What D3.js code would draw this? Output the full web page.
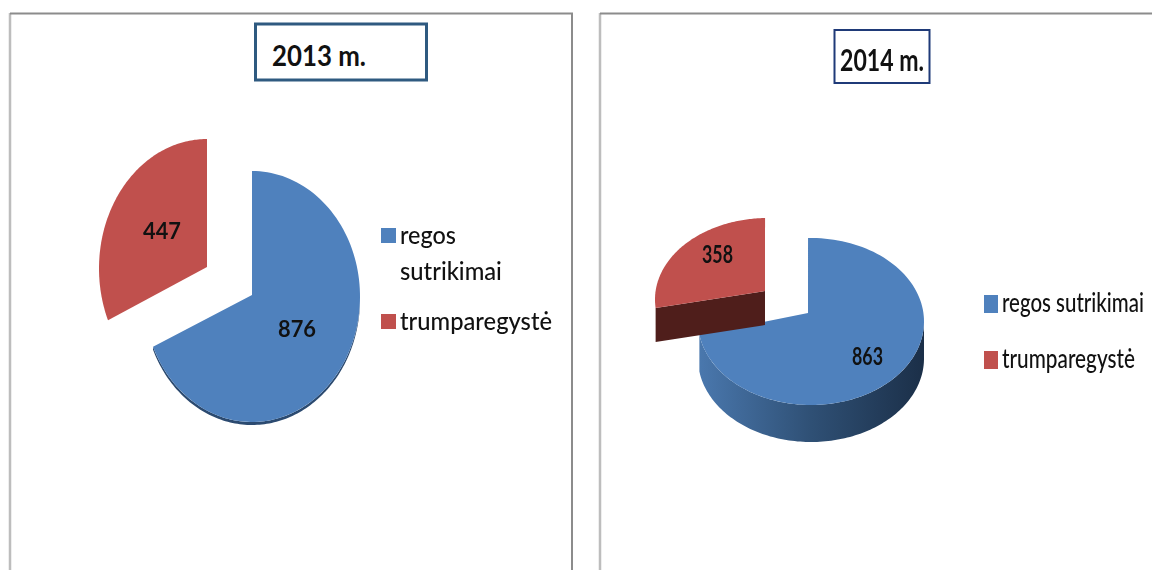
<!DOCTYPE html>
<html>
<head>
<meta charset="utf-8">
<script src="https://cdnjs.cloudflare.com/ajax/libs/d3/7.8.5/d3.min.js"></script>
<style>
  html, body { margin: 0; padding: 0; background: #fff; overflow: hidden; }
  svg { display: block; filter: blur(0.6px); }
  text { font-family: Lato, "Open Sans", sans-serif; fill: #111; }
</style>
</head>
<body>
<div id="chart"></div>
<script>
// values
var categories = ['regos sutrikimai', 'trumparegystė'];
var years = ['2013 m.', '2014 m.'];
var values2013 = [876, 447];
var values2014 = [863, 358];
var colors = ['#4f81bd', '#c0504d'];

var w = 1152, h = 570;
var svg = d3.select('#chart').append('svg').attr('width', w).attr('height', h);

var defs = svg.append('defs');
var grad = defs.append('linearGradient').attr('id', 'blueWall')
  .attr('gradientUnits', 'userSpaceOnUse')
  .attr('x1', 698).attr('x2', 924).attr('y1', 0).attr('y2', 0);
grad.append('stop').attr('offset', 0).attr('stop-color', '#4a78ae');
grad.append('stop').attr('offset', 0.5).attr('stop-color', '#2f5075');
grad.append('stop').attr('offset', 1).attr('stop-color', '#1b2f48');

// the panels
function frame(x0, x1) {
  svg.append('line').attr('x1', x0).attr('x2', x0).attr('y1', 13).attr('y2', h)
    .attr('stroke', '#bdbdbd').attr('stroke-width', 2.5);
  svg.append('line').attr('x1', x0).attr('x2', x1).attr('y1', 13.5).attr('y2', 13.5)
    .attr('stroke', '#8c8c8c').attr('stroke-width', 2);
}
frame(10, 573);
frame(600, w);
svg.append('line').attr('x1', 572).attr('x2', 572).attr('y1', 13).attr('y2', h)
  .attr('stroke', '#8c8c8c').attr('stroke-width', 2);

var toRad = Math.PI / 180;
var pie = d3.pie().sort(null);

function drawPie(values, g) {
  var arcs = pie(values);
  // the source is a tilted 3D pie, so seen angles differ a bit from true ones
  var warps = [g.seenCut, g.seenCutRed].map(function(cut) {
    return d3.scaleLinear()
      .domain([0, arcs[0].endAngle, 2 * Math.PI])
      .range([g.seenStart * toRad, cut * toRad, 2 * Math.PI + g.seenStart * toRad]);
  });
  var line = d3.line();

  arcs.forEach(function(d, i) {
    var a0 = warps[i](d.startAngle), a1 = warps[i](d.endAngle);
    var off = i === 1 ? g.explode : [0, 0];
    var ry = i === 1 ? g.ryRed : g.ry;
    var layer = svg.append('g').attr('transform', 'translate(' + off[0] + ',' + off[1] + ')');

    function rim(a) {
      return [g.cx + g.rx * Math.sin(a), g.cy - ry * Math.cos(a)];
    }
    function sample(s0, s1) {
      return d3.range(0, 121).map(function(k) { return rim(d3.interpolateNumber(s0, s1)(k / 120)); });
    }

    if (i === 0) {
      // outer wall of the big slice, only the part that faces the viewer
      var top = sample(Math.PI / 2, a1);
      var bottom = top.map(function(p) { return [p[0], p[1] + g.depth]; }).reverse();
      layer.append('path').attr('d', line(top.concat(bottom)) + 'Z').attr('fill', g.wallBlue);
    } else if (g.depthRed > 0) {
      // cut face of the pulled out slice
      var outer = rim(a0);
      var face = [[g.ax, g.ay], outer, [outer[0], outer[1] + g.depthRed], [g.ax, g.ay + g.depthRed]];
      layer.append('path').attr('d', line(face) + 'Z').attr('fill', '#4f1e1b');
    }
    layer.append('path')
      .attr('d', line([[g.ax, g.ay]].concat(sample(a0, a1))) + 'Z')
      .attr('fill', colors[i]);
  });
}

drawPie(values2013, {
  cx: 252, cy: 296.5, rx: 108, ry: 125.5, ryRed: 129.5, ax: 252, ay: 295, depth: 3, depthRed: 0,
  seenStart: 0, seenCut: 246.4, seenCutRed: 246.4, explode: [-45, -28], wallBlue: '#2b4a70'
});
drawPie(values2014, {
  cx: 811, cy: 321.5, rx: 113, ry: 83.5, ryRed: 81.5, ax: 808, ay: 313, depth: 37, depthRed: 34,
  seenStart: -1.5, seenCut: 261, seenCutRed: 264, explode: [-43, -22], wallBlue: 'url(#blueWall)'
});

// text squeezed to a given width with a scale, so the box stays where it is drawn
function label(txt, x, y, size, weight, len) {
  var t = svg.append('text').attr('font-size', size).attr('font-weight', weight).text(txt);
  var sx = len / t.node().getComputedTextLength();
  t.attr('transform', 'translate(' + x + ',' + y + ') scale(' + sx + ',1)');
  return t;
}

// titles
svg.append('rect').attr('x', 255.5).attr('y', 24).attr('width', 171).attr('height', 56)
  .attr('fill', '#fff').attr('stroke', '#2f5a80').attr('stroke-width', 3);
label(years[0], 272, 66, 28, 700, 94);
svg.append('rect').attr('x', 834.5).attr('y', 30).attr('width', 95).attr('height', 53)
  .attr('fill', '#fff').attr('stroke', '#1f3a78').attr('stroke-width', 2);
label(years[1], 840, 71, 30, 700, 84);

// data labels
label(values2013[1], 143, 239, 22, 700, 38);
label(values2013[0], 278, 337, 22, 700, 38);
label(values2014[1], 702, 263, 25, 700, 31);
label(values2014[0], 852, 365, 25, 700, 31);

// legends
svg.append('rect').attr('x', 381).attr('y', 228).attr('width', 15).attr('height', 15).attr('fill', colors[0]);
svg.append('rect').attr('x', 381).attr('y', 314).attr('width', 15).attr('height', 15).attr('fill', colors[1]);
var firstLine = categories[0].split(' ');
label(firstLine[0], 400, 244, 24, 500, 56);
label(firstLine[1], 400, 280, 24, 500, 102);
label(categories[1], 400, 330, 24, 500, 152);

svg.append('rect').attr('x', 984).attr('y', 295).attr('width', 14).attr('height', 18).attr('fill', colors[0]);
svg.append('rect').attr('x', 984).attr('y', 351).attr('width', 14).attr('height', 18).attr('fill', colors[1]);
label(categories[0], 1002, 312, 26, 500, 142);
label(categories[1], 1002, 368, 26, 500, 133);
</script>
</body>
</html>
